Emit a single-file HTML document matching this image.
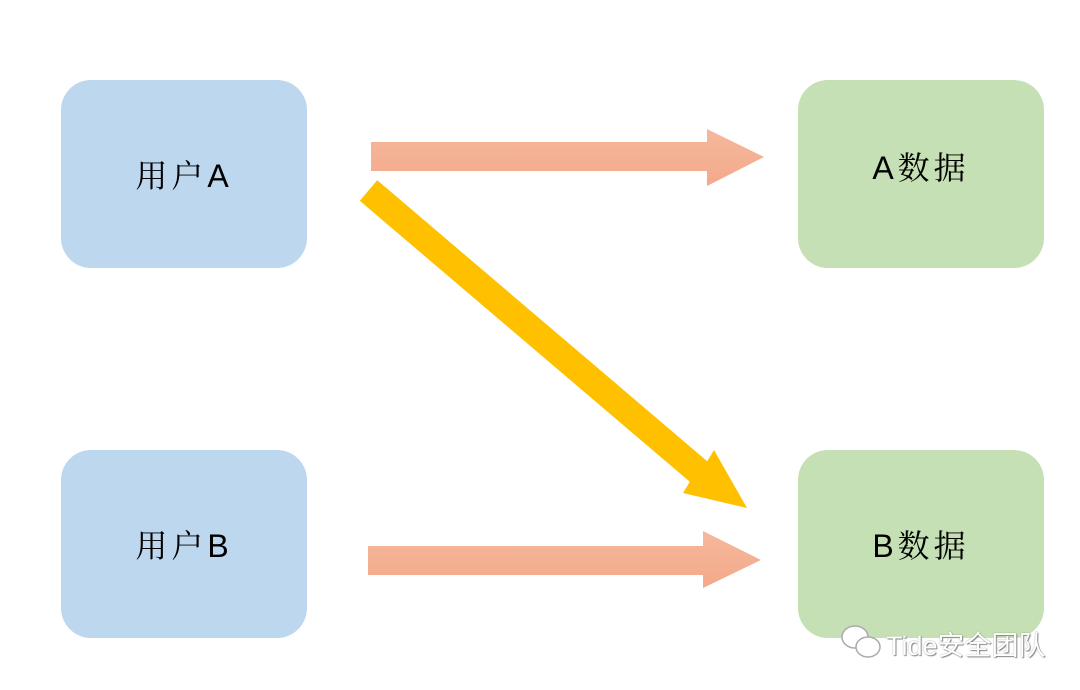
<!DOCTYPE html>
<html><head><meta charset="utf-8"><style>
body{margin:0;width:1080px;height:690px;background:#fff;overflow:hidden;position:relative;font-family:"Liberation Sans","Noto Sans CJK SC",sans-serif}
.b{position:absolute;width:246px;height:188px;border-radius:30px;display:flex;align-items:center;justify-content:center;font-size:32px;color:#000;font-family:"Liberation Sans","Noto Serif CJK SC",serif;font-weight:normal;letter-spacing:4px}
.blue{background:#bdd7ee}.green{background:#c5e0b4}
svg{position:absolute;left:0;top:0}
.wm{position:absolute;left:886px;top:624px;font-size:27px;color:#fff;text-shadow:0 0 1px #777,1px 1px 1px #888;font-family:"Liberation Sans","Noto Sans CJK SC",sans-serif}
</style></head><body>
<div class="b blue" style="left:61px;top:80px">用户A</div>
<div class="b green" style="left:798px;top:80px;padding-bottom:16px;box-sizing:border-box">A数据</div>
<div class="b blue" style="left:61px;top:450px">用户B</div>
<div class="b green" style="left:798px;top:450px">B数据</div>
<svg width="1080" height="690">
<defs><linearGradient id="g" x1="0" y1="0" x2="0" y2="1"><stop offset="0" stop-color="#f5b89c"/><stop offset="1" stop-color="#f4a98a"/></linearGradient></defs>
<polygon fill="url(#g)" points="371,142 707,142 707,129 764,157 707,186 707,171 371,171"/>
<polygon fill="url(#g)" points="368,546 703,546 703,531 761,560 703,588 703,575 368,575"/>
<polygon fill="#ffc000" points="359.8,200.8 377.2,180.2 707.2,461.2 714,450 747,508 683,493 689.8,481.8"/>
<g fill="#fff" stroke="#aaa" stroke-width="1.5"><ellipse cx="855" cy="637" rx="13" ry="11"/><ellipse cx="868" cy="647" rx="12" ry="10"/></g>
</svg>
<div class="wm">Tide安全团队</div>
</body></html>
